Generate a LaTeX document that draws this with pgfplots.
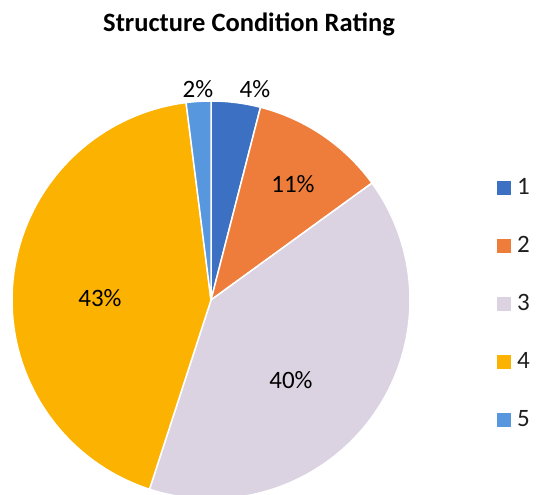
\documentclass[border=0pt]{standalone}
\usepackage{fontspec}
\setmainfont{Carlito}
\usepackage{pgfplots}
\usepackage{pgfplotstable}
\pgfplotsset{compat=1.18}

% slice colours, ratings 1 to 5
\definecolor{slice0}{HTML}{3B70C2}
\definecolor{slice1}{HTML}{EE7D3C}
\definecolor{slice2}{HTML}{DCD3E2}
\definecolor{slice3}{HTML}{FCB200}
\definecolor{slice4}{HTML}{5697DD}
\definecolor{inktext}{HTML}{1E1E1E}

% share of structures per rating (percent) and where its label sits
\pgfplotstableread{
rating share labx laby
1 4  255 406
2 11 293 311
3 40 291 115
4 43 100 197
5 2  198 406
}\ratingtable

\begin{document}
\begin{tikzpicture}
% cumulative start and end angles, clockwise from twelve o'clock
\xdef\runsum{0}
\foreach \i in {0,...,4}{%
  \pgfplotstablegetelem{\i}{share}\of\ratingtable
  \pgfmathsetmacro\angstart{90-3.6*\runsum}%
  \pgfmathsetmacro\angend{90-3.6*(\runsum+\pgfplotsretval)}%
  \expandafter\xdef\csname slicestart\i\endcsname{\angstart}%
  \expandafter\xdef\csname sliceend\i\endcsname{\angend}%
  \pgfmathsetmacro\newsum{\runsum+\pgfplotsretval}%
  \xdef\runsum{\newsum}%
}
\begin{axis}[
  x=1bp, y=1bp,
  xmin=0, xmax=541, ymin=0, ymax=495,
  hide axis,
  clip=true,
  /pgf/number format/assume math mode=true,
  font=\fontsize{25bp}{30bp}\selectfont\color{inktext},
  legend entries={1,2,3,4,5},
  legend image code/.code={\fill[#1, draw=none] (0bp,-9bp) rectangle (14bp,5bp);},
  legend style={
    at={(axis cs:497,317)}, anchor=north west,
    draw=none, fill=none, inner sep=0pt, outer sep=0pt,
    row sep=40.3bp,
    nodes={inner sep=0pt, text height=17bp, text depth=0bp},
    /tikz/every odd column/.append style={column sep=6bp},
  },
]
\pgfplotsinvokeforeach{0,...,4}{%
  \edef\drawslice{\noexpand\addplot[fill=slice#1, draw=white, line width=1.5bp,
      samples=90, domain=\csname sliceend#1\endcsname:\csname slicestart#1\endcsname]}%
  \drawslice ({211+199*cos(x)}, {195+199*sin(x)}) -- (axis cs:211,195) -- cycle;
}
% percentage labels
\addplot[draw=none, forget plot,
  point meta=\thisrow{share},
  nodes near coords={\pgfmathprintnumber{\pgfplotspointmeta}\%},
  nodes near coords style={anchor=center, inner sep=0pt, font=\fontsize{25bp}{30bp}\selectfont}]
  table[x=labx, y=laby] {\ratingtable};
\node[anchor=base, font=\fontsize{26.5bp}{32bp}\selectfont\bfseries] at (axis cs:249,463) {Structure Condition Rating};
\end{axis}
\pgfresetboundingbox
\path (current axis.south west) rectangle (current axis.north east);
\end{tikzpicture}
\end{document}
